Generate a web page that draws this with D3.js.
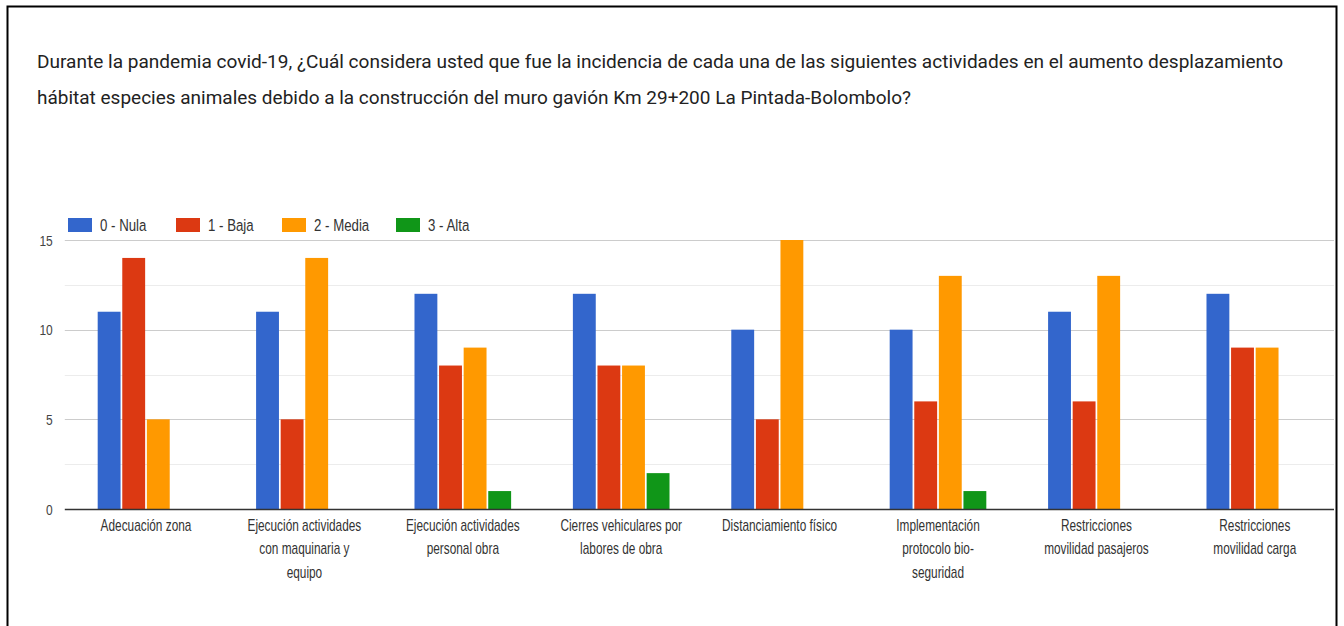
<!DOCTYPE html>
<html><head><meta charset="utf-8">
<script src="https://cdn.jsdelivr.net/npm/d3@7"></script>
<style>html,body{margin:0;padding:0;background:#fff;}svg{display:block;}</style>
</head><body>
<script>
const titleLines = [
  "Durante la pandemia covid-19, ¿Cuál considera usted que fue la incidencia de cada una de las siguientes actividades en el aumento desplazamiento",
  "hábitat especies animales debido a la construcción del muro gavión Km 29+200 La Pintada-Bolombolo?"
];
const categories = [
  ["Adecuación zona"],
  ["Ejecución actividades","con maquinaria y","equipo"],
  ["Ejecución actividades","personal obra"],
  ["Cierres vehiculares por","labores de obra"],
  ["Distanciamiento físico"],
  ["Implementación","protocolo bio-","seguridad"],
  ["Restricciones","movilidad pasajeros"],
  ["Restricciones","movilidad carga"]
];
const seriesNames = ["0 - Nula","1 - Baja","2 - Media","3 - Alta"];
const seriesColors = ["#3366cc","#dc3912","#ff9900","#109618"];
const nula  = [11,11,12,12,10,10,11,12];
const baja  = [14,5,8,8,5,6,6,9];
const media = [5,14,9,8,15,13,13,9];
const alta  = [0,0,1,2,0,1,0,0];
const yTicks = [0,5,10,15];
const yMinor = [2.5,7.5,12.5];

const W=1344,H=626;
const svg=d3.select("body").append("svg").attr("width",W).attr("height",H);
svg.append("rect").attr("width",W).attr("height",H).attr("fill","#fff");
svg.append("path").attr("d","M7.5,626 V6.5 H1336.5 V626").attr("fill","none").attr("stroke","#000").attr("stroke-width",2);

const font="'Liberation Sans',Arial,sans-serif";
const tfont="Roboto,'Open Sans','Noto Sans',sans-serif";
const title=svg.append("g");
const tWidths=[1246,874];
titleLines.forEach((t,i)=>{
  title.append("text").attr("x",37).attr("y",68+i*36).attr("font-family",tfont).attr("font-size",18.5)
   .attr("fill","#222").attr("textLength",tWidths[i]).attr("lengthAdjust","spacingAndGlyphs").text(t);
});

const ml=66.8, mr=1334, y0=509, y1=240;
const x=d3.scaleBand().domain(d3.range(categories.length)).range([ml,mr]).paddingInner(0.39).paddingOuter(0.195);
const xs=d3.scaleBand().domain(d3.range(4)).range([0,x.bandwidth()]).paddingInner(0.07);
const y=d3.scaleLinear().domain([0,15]).range([y0,y1]);

const g=svg.append("g");
g.selectAll("line.minor").data(yMinor).join("line").attr("x1",ml-2).attr("x2",mr).attr("y1",d=>Math.round(y(d))+0.5).attr("y2",d=>Math.round(y(d))+0.5).attr("stroke","#ececec");
g.selectAll("line.major").data(yTicks.filter(d=>d>0)).join("line").attr("x1",ml-2).attr("x2",mr).attr("y1",d=>Math.round(y(d))+0.5).attr("y2",d=>Math.round(y(d))+0.5).attr("stroke","#cccccc");

const yAxis=d3.axisLeft(y).tickValues(yTicks).tickSize(0).tickPadding(0).tickFormat("");
const ya=svg.append("g").attr("transform",`translate(${ml-14},0)`).call(yAxis);
ya.select(".domain").remove();
ya.selectAll(".tick").append("text").attr("text-anchor","end").attr("dy","0.35em")
  .attr("transform","scale(0.8,1)").attr("font-family",font).attr("font-size",15).attr("fill","#444").text(d=>d);

const series=[nula,baja,media,alta];
series.forEach((vals,s)=>{
  g.selectAll(null).data(vals).join("rect")
   .attr("x",(d,i)=>x(i)+xs(s)).attr("width",xs.bandwidth())
   .attr("y",d=>y(d)).attr("height",d=>y0-y(d)).attr("fill",seriesColors[s]);
});
svg.append("line").attr("x1",ml-2).attr("x2",mr).attr("y1",y0+0.5).attr("y2",y0+0.5).attr("stroke","#333").attr("stroke-width",1.5);

const xAxis=d3.axisBottom(x).tickSize(0).tickFormat("");
const xa=svg.append("g").attr("transform",`translate(0,${y0})`).call(xAxis);
xa.select(".domain").remove();
xa.selectAll(".tick").each(function(d){
  const t=d3.select(this).append("text").attr("text-anchor","middle").attr("transform","scale(0.74,1)")
    .attr("font-family",font).attr("font-size",16).attr("fill","#333");
  categories[d].forEach((ln,k)=>t.append("tspan").attr("x",0).attr("y",22+k*23.5).text(ln));
});

const leg=svg.append("g");
const legX=[68,176,282,396];
seriesNames.forEach((n,i)=>{
  leg.append("rect").attr("x",legX[i]).attr("y",218).attr("width",24).attr("height",14).attr("fill",seriesColors[i]);
  leg.append("text").attr("transform",`translate(${legX[i]+32},231) scale(0.78,1)`).attr("font-family",font).attr("font-size",17).attr("fill","#333").text(n);
});
</script>
</body></html>
